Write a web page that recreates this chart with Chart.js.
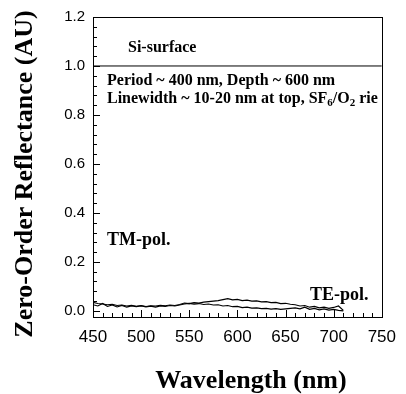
<!DOCTYPE html>
<html><head><meta charset="utf-8">
<script src="https://cdn.jsdelivr.net/npm/chart.js@4.4.0/dist/chart.umd.min.js"></script>
<style>html,body{margin:0;padding:0;background:#fff;}canvas{display:block;}</style>
</head><body>
<canvas id="c" width="406" height="394"></canvas>
<script>
// ---- data ----
const wavelengths = [450,455,460,465,470,475,480,485,490,495,500,505,510,515,520,525,530,535,540,545,550,555,560,565,570,575,580,585,590,595,600,605,610,615,620,625,630,635,640,645,650,655,660,665,670,675,680,685,690,695,700,705,710];
const seriesUpper = [0.035,0.030,0.028,0.025,0.027,0.022,0.024,0.020,0.023,0.019,0.022,0.018,0.021,0.020,0.023,0.021,0.024,0.022,0.026,0.032,0.030,0.034,0.032,0.036,0.038,0.040,0.042,0.046,0.050,0.045,0.047,0.042,0.044,0.040,0.041,0.037,0.038,0.034,0.035,0.030,0.031,0.027,0.025,0.020,0.022,0.015,0.018,0.012,0.015,0.010,0.014,0.020,0.002];
const seriesLower = [0.025,0.020,0.030,0.018,0.024,0.016,0.022,0.015,0.020,0.017,0.020,0.016,0.019,0.015,0.020,0.018,0.022,0.020,0.024,0.028,0.031,0.028,0.030,0.026,0.028,0.024,0.025,0.020,0.022,0.017,0.018,0.013,0.015,0.011,0.012,0.009,0.010,0.007,0.009,0.006,0.008,0.010,0.012,0.008,0.015,0.006,0.010,0.004,0.008,0.003,0.006,0.002,0.000];
const siSurfaceX = [450, 750];
const siSurfaceY = [1.0, 1.0];
const xTicks = [450,500,550,600,650,700,750];
const yTicks = [0.0,0.2,0.4,0.6,0.8,1.0,1.2];
const xTitle = "Wavelength (nm)";
const yTitle = "Zero-Order Reflectance (AU)";

const SERIF = '"Liberation Serif", "Times New Roman", serif';
const SANS = '"Liberation Sans", Arial, sans-serif';

const toXY = (xs, ys) => xs.map((x, i) => ({x: x, y: ys[i]}));

const framePlugin = {
  id: 'frame',
  afterDraw(chart) {
    const ctx = chart.ctx;
    const a = chart.chartArea;
    const xs = chart.scales.x, ys = chart.scales.y;
    ctx.save();
    ctx.strokeStyle = '#000';
    ctx.lineWidth = 1;
    ctx.strokeRect(Math.round(a.left) + 0.5, Math.round(a.top) + 0.5,
                   Math.round(a.right - a.left), Math.round(a.bottom - a.top));
    ctx.beginPath();
    // y ticks (inward), major 0.2 / minor 0.04
    for (let k = 0; k <= 30; k++) {
      const v = k * 0.04;
      const p = Math.round(ys.getPixelForValue(v)) + 0.5;
      const major = (k % 5 === 0);
      ctx.moveTo(a.left, p); ctx.lineTo(a.left + (major ? 7 : 4), p);
    }
    // x ticks (inward), major 50 / minor 10
    for (let w = 450; w <= 750; w += 10) {
      const p = Math.round(xs.getPixelForValue(w)) + 0.5;
      const major = ((w - 450) % 50 === 0);
      ctx.moveTo(p, a.bottom); ctx.lineTo(p, a.bottom - (major ? 7 : 4));
    }
    ctx.stroke();

    // annotations
    ctx.fillStyle = '#000';
    ctx.textBaseline = 'alphabetic';
    ctx.textAlign = 'left';
    ctx.font = 'bold 16px ' + SERIF;
    ctx.fillText('Si-surface', 128, 52);
    ctx.fillText('Period ~ 400 nm, Depth ~ 600 nm', 107, 85);
    // second line with subscripts
    let x = 107; const yb = 103;
    const parts = [['Linewidth ~ 10-20 nm at top, SF', 0], ['6', 1], ['/O', 0], ['2', 1], [' rie', 0]];
    for (const [t, sub] of parts) {
      ctx.font = sub ? 'bold 11px ' + SERIF : 'bold 16px ' + SERIF;
      ctx.fillText(t, x, sub ? yb + 3 : yb);
      x += ctx.measureText(t).width;
    }
    ctx.font = 'bold 18px ' + SERIF;
    ctx.fillText('TM-pol.', 107, 245);
    ctx.fillText('TE-pol.', 310, 300);

    // axis titles
    ctx.font = 'bold 26px ' + SERIF;
    ctx.textAlign = 'center';
    ctx.fillText(xTitle, 251, 388);
    ctx.save();
    ctx.translate(32, 174);
    ctx.rotate(-Math.PI / 2);
    ctx.fillText(yTitle, 0, 0);
    ctx.restore();
    ctx.restore();
  }
};

new Chart(document.getElementById('c'), {
  type: 'line',
  data: {
    datasets: [
      { data: toXY(siSurfaceX, siSurfaceY), borderColor: '#000', borderWidth: 1, pointRadius: 0 },
      { data: toXY(wavelengths, seriesUpper), borderColor: '#000', borderWidth: 1.2, pointRadius: 0 },
      { data: toXY(wavelengths, seriesLower), borderColor: '#000', borderWidth: 1.2, pointRadius: 0 }
    ]
  },
  options: {
    responsive: false,
    animation: false,
    devicePixelRatio: 1,
    layout: { padding: { top: 14, right: 14, left: 0, bottom: 0 } },
    plugins: { legend: { display: false }, tooltip: { enabled: false } },
    scales: {
      x: {
        type: 'linear', min: 450, max: 750,
        grid: { display: false, drawTicks: false },
        border: { display: false },
        afterBuildTicks: s => { s.ticks = xTicks.map(v => ({value: v})); },
        afterFit: s => { s.height = 77; },
        ticks: { color: '#000', font: { family: SANS, size: 17 }, padding: 10, maxRotation: 0,
                 callback: v => String(v) }
      },
      y: {
        type: 'linear', min: -0.025, max: 1.2,
        grid: { display: false, drawTicks: false },
        border: { display: false },
        afterBuildTicks: s => { s.ticks = yTicks.map(v => ({value: v})); },
        afterFit: s => { s.width = 93; },
        ticks: { color: '#000', font: { family: SANS, size: 15 }, padding: 8,
                 callback: v => Number(v).toFixed(1) }
      }
    }
  },
  plugins: [framePlugin]
});
</script>
</body></html>
